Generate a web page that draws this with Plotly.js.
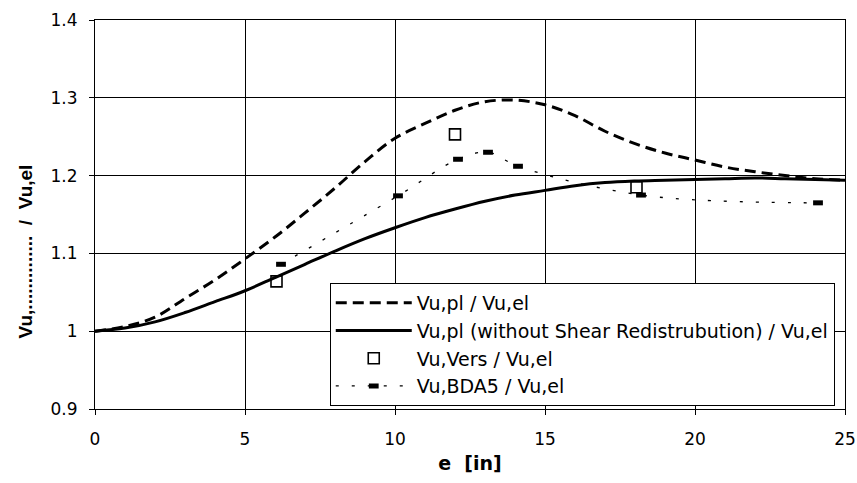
<!DOCTYPE html>
<html>
<head>
<meta charset="utf-8">
<script src="https://cdn.plot.ly/plotly-3.0.1.min.js"></script>
<style>html,body{margin:0;padding:0;background:#fff;}#chart{width:857px;height:483px;}</style>
</head>
<body>
<div id="chart"></div>
<script>
// e [in] positions for the analytical curves
var plX = [0,1,2,3,4,5,6,7,8,9,10,11,12,13,14,15,16,17,18,19,20,21,22,23,24,25];
// Vu,pl / Vu,el
var plY = [1.000,1.006,1.018,1.042,1.066,1.093,1.121,1.152,1.184,1.218,1.248,1.267,1.284,1.295,1.297,1.291,1.277,1.257,1.241,1.229,1.220,1.211,1.205,1.200,1.196,1.194];
// Vu,pl (without Shear Redistrubution) / Vu,el
var plNoX = [0,1,2,3,4,5,6,7,8,9,10,11,12,13,14,15,16,17,18,19,20,21,22,23,24,25];
var plNoY = [1.000,1.004,1.012,1.024,1.038,1.052,1.069,1.086,1.103,1.119,1.133,1.146,1.157,1.167,1.175,1.181,1.187,1.191,1.193,1.194,1.195,1.196,1.197,1.196,1.195,1.194];
// Vu,Vers / Vu,el
var versX = [6.05, 12.0, 18.05];
var versY = [1.064, 1.253, 1.185];
// Vu,BDA5 / Vu,el
var bdaX = [6.2, 10.1, 12.1, 13.1, 14.1, 18.2, 24.1];
var bdaY = [1.086, 1.174, 1.221, 1.230, 1.212, 1.175, 1.165];

var names = ["Vu,pl / Vu,el", "Vu,pl (without Shear Redistrubution) / Vu,el", "Vu,Vers / Vu,el", "Vu,BDA5 / Vu,el"];
var yTitle = "Vu,..............\u00a0\u00a0/\u00a0\u00a0Vu,el";
var xTitle = "e\u00a0\u00a0[in]";

var traces = [
  {x: plX, y: plY, name: names[0], mode: "lines", type: "scatter",
   line: {color: "#000", width: 3, dash: "11px,6px", shape: "spline"}},
  {x: plNoX, y: plNoY, name: names[1], mode: "lines", type: "scatter",
   line: {color: "#000", width: 3, shape: "spline"}},
  {x: versX, y: versY, name: names[2], mode: "markers", type: "scatter",
   marker: {symbol: "square-open", size: 11, color: "#000", line: {width: 1.6, color: "#000"}}},
  {x: bdaX, y: bdaY, name: names[3], mode: "lines+markers", type: "scatter",
   line: {color: "#000", width: 1.3, dash: "3px,13px", shape: "spline"},
   marker: {symbol: "line-ew", size: 7, color: "#000", line: {width: 5, color: "#000"}}}
];

var font = "Liberation Sans, Arial, sans-serif";
var wide = "DejaVu Sans, Liberation Sans, sans-serif";
var layout = {
  width: 857, height: 483,
  margin: {l: 95, r: 12, t: 20, b: 74},
  paper_bgcolor: "#fff", plot_bgcolor: "#fff",
  font: {family: wide, color: "#000", size: 17},
  showlegend: true,
  legend: {x: 0.313, y: 0.324, xanchor: "left", yanchor: "top",
           bgcolor: "#fff", bordercolor: "#000", borderwidth: 1,
           font: {family: wide, size: 19, color: "#000"}, itemwidth: 76, tracegroupgap: 0},
  xaxis: {range: [0, 25], dtick: 5, tick0: 0, showgrid: true, gridcolor: "#000", gridwidth: 1,
          zeroline: false, showline: true, linecolor: "#000", linewidth: 1, mirror: true,
          ticks: "outside", ticklen: 5, tickcolor: "#000", ticklabelstandoff: 10,
          tickfont: {family: wide, size: 17},
          title: {text: "<b>" + xTitle + "</b>", font: {family: wide, size: 19}, standoff: 8}},
  yaxis: {range: [0.9, 1.4], dtick: 0.1, tick0: 0.9, showgrid: true, gridcolor: "#000", gridwidth: 1,
          zeroline: false, showline: true, linecolor: "#000", linewidth: 1, mirror: true,
          ticks: "outside", ticklen: 5, tickcolor: "#000", ticklabelstandoff: 8,
          tickfont: {family: wide, size: 17}},
  annotations: [{text: "<b>" + yTitle + "</b>", xref: "paper", yref: "paper",
                 x: -0.0933, y: 0.405, xanchor: "center", yanchor: "middle",
                 textangle: -90, showarrow: false, font: {family: font, size: 19, color: "#000"}}]
};

Plotly.newPlot("chart", traces, layout, {displayModeBar: false, staticPlot: true});
</script>
</body>
</html>
